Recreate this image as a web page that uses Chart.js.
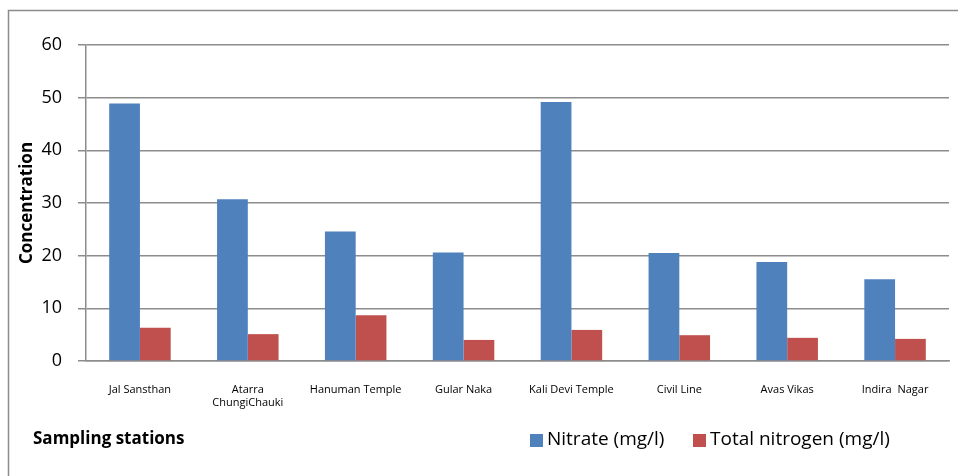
<!DOCTYPE html>
<html>
<head>
<meta charset="utf-8">
<script src="https://cdn.jsdelivr.net/npm/chart.js@4"></script>
<style>
html,body{margin:0;padding:0;background:#fff;}
canvas{display:block;}
</style>
</head>
<body>
<canvas id="c" width="958" height="476"></canvas>
<script>
const stations = ["Jal Sansthan", ["Atarra", "ChungiChauki"], "Hanuman Temple", "Gular Naka", "Kali Devi Temple", "Civil Line", "Avas Vikas", "Indira  Nagar"];
const nitrate = [48.9, 30.7, 24.6, 20.6, 49.2, 20.5, 18.8, 15.5];
const totalNitrogen = [6.3, 5.1, 8.7, 4.0, 5.9, 4.9, 4.4, 4.2];
const seriesNames = ["Nitrate (mg/l)", "Total nitrogen (mg/l)"];
const yTitle = "Concentration";
const xTitle = "Sampling stations";

const FONT = "'Open Sans', 'Liberation Sans', sans-serif";
const GRID = "#8c8c8c";

const decor = {
  id: "decor",
  beforeDraw(chart) {
    const ctx = chart.ctx;
    ctx.save();
    ctx.fillStyle = "#fff";
    ctx.fillRect(0, 0, chart.width, chart.height);
    ctx.strokeStyle = "#8c8c8c";
    ctx.lineWidth = 1.5;
    ctx.beginPath();
    ctx.moveTo(8.5, chart.height + 5);
    ctx.lineTo(8.5, 10.5);
    ctx.lineTo(chart.width + 5, 10.5);
    ctx.stroke();
    ctx.restore();
  },
  afterDraw(chart) {
    const ctx = chart.ctx;
    ctx.save();
    ctx.fillStyle = "#000";
    ctx.textBaseline = "middle";
    ctx.textAlign = "left";
    ctx.font = "bold 17px " + FONT;
    ctx.fillText(xTitle, 33, 439);
    // legend
    ctx.font = "19px " + FONT;
    const starts = [530, 693];
    chart.data.datasets.forEach((ds, i) => {
      const x = starts[i];
      ctx.fillStyle = ds.backgroundColor;
      ctx.fillRect(x, 434, 13, 13);
      ctx.fillStyle = "#000";
      ctx.fillText(ds.label, x + 17, 440);
    });
    ctx.restore();
  }
};

new Chart(document.getElementById("c"), {
  type: "bar",
  data: {
    labels: stations,
    datasets: [
      { label: seriesNames[0], data: nitrate, backgroundColor: "#4F81BD" },
      { label: seriesNames[1], data: totalNitrogen, backgroundColor: "#C0504D" }
    ]
  },
  options: {
    responsive: false,
    animation: false,
    devicePixelRatio: 1,
    layout: { padding: { left: 10, top: 45, right: 9, bottom: 55 } },
    datasets: { bar: { categoryPercentage: 0.57, barPercentage: 1.0 } },
    plugins: { legend: { display: false }, tooltip: { enabled: false } },
    scales: {
      x: {
        grid: { display: false, drawTicks: false },
        border: { display: true, color: GRID, width: 1.5 },
        ticks: { font: { family: FONT, size: 11 }, color: "#000", padding: 22, maxRotation: 0, autoSkip: false },
        afterFit(s) { s.height = 60; }
      },
      y: {
        min: 0, max: 60,
        ticks: { stepSize: 10, font: { family: FONT, size: 18 }, color: "#000", padding: 16 },
        grid: { color: GRID, lineWidth: 1.5, tickLength: 8 },
        border: { display: true, color: GRID, width: 1.5 },
        title: { display: true, text: yTitle, font: { family: FONT, size: 17, weight: "bold" }, color: "#000", padding: { top: 7, bottom: 0 } },
        afterFit(s) { s.width = 76; }
      }
    }
  },
  plugins: [decor]
});
</script>
</body>
</html>
